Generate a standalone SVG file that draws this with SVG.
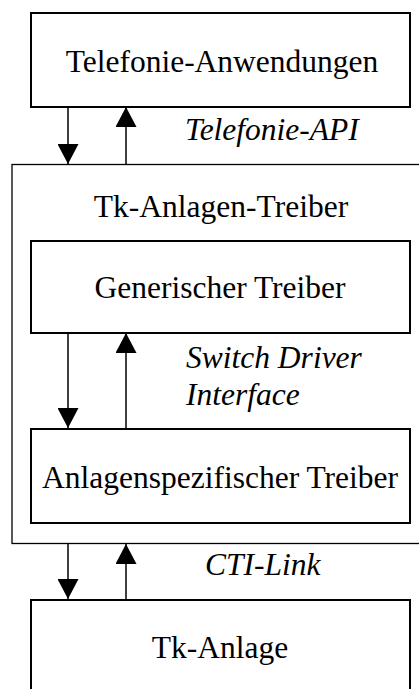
<svg xmlns="http://www.w3.org/2000/svg" width="419" height="689" viewBox="0 0 419 689">
<style>
.box{fill:#fff;stroke:#000;stroke-width:2}
.outer{fill:#fff;stroke:#000;stroke-width:1.3}
.t{font-family:"Liberation Serif",serif;font-size:31.5px;fill:#000}
.m{text-anchor:middle}
.i{font-style:italic}
.c{stroke:#000;stroke-width:1.5;fill:none}
</style>
<defs>
<marker id="ah" viewBox="0 0 20 21" refX="20" refY="10.5" markerWidth="20" markerHeight="21" markerUnits="userSpaceOnUse" orient="auto">
<path d="M0,0 L20,10.5 L0,21 Z" fill="#000"/>
</marker>
</defs>
<g id="n-apps">
<rect class="box" x="31" y="13" width="379" height="94"/>
<text class="t m" x="222" y="72">Telefonie-Anwendungen</text>
</g>
<g id="n-driver">
<rect class="outer" x="12" y="164.5" width="412" height="379"/>
<text class="t m" x="221" y="217">Tk-Anlagen-Treiber</text>
</g>
<g id="n-generic">
<rect class="box" x="31" y="241" width="379" height="92"/>
<text class="t m" x="220" y="298">Generischer Treiber</text>
</g>
<g id="n-specific">
<rect class="box" x="31" y="429" width="379" height="94"/>
<text class="t m" x="220" y="488">Anlagenspezifischer Treiber</text>
</g>
<g id="n-pbx">
<rect class="box" x="31" y="600" width="379" height="100"/>
<text class="t m" x="220" y="658">Tk-Anlage</text>
</g>
<g id="connectors">
<line class="c" x1="68" y1="107" x2="68" y2="164" marker-end="url(#ah)"/>
<line class="c" x1="126" y1="164" x2="126" y2="107" marker-end="url(#ah)"/>
<line class="c" x1="68" y1="333" x2="68" y2="428" marker-end="url(#ah)"/>
<line class="c" x1="126" y1="428" x2="126" y2="333" marker-end="url(#ah)"/>
<line class="c" x1="68" y1="544" x2="68" y2="599" marker-end="url(#ah)"/>
<line class="c" x1="126" y1="599" x2="126" y2="544" marker-end="url(#ah)"/>
<text class="t i" x="185" y="140">Telefonie-API</text>
<text class="t i" x="186" y="368">Switch Driver</text>
<text class="t i" x="186" y="405">Interface</text>
<text class="t i" x="205" y="575">CTI-Link</text>
</g>
</svg>
